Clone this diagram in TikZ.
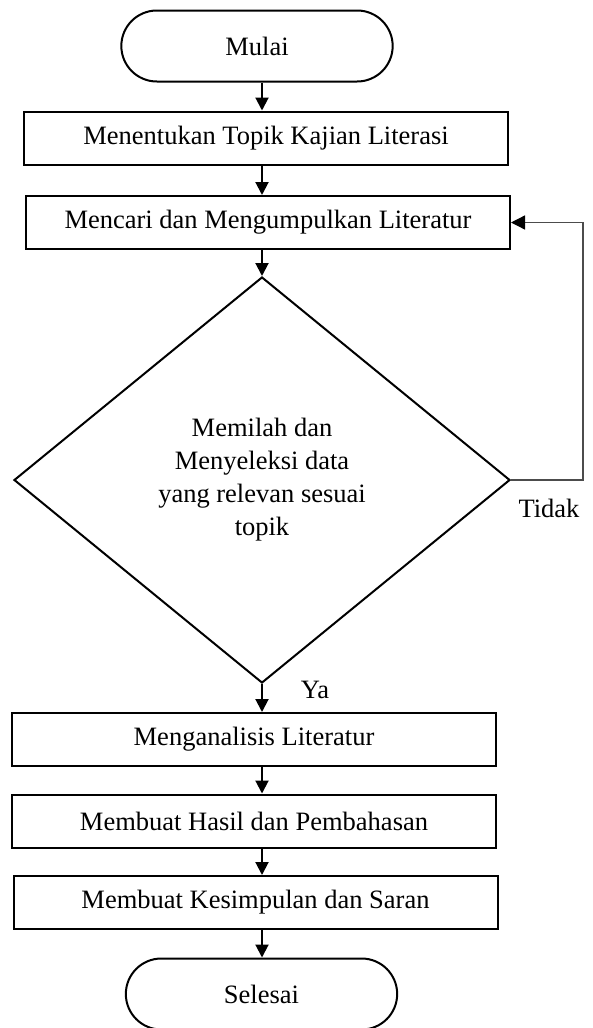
\documentclass[tikz,border=0pt]{standalone}
\usepackage{fontspec}
\setmainfont{Liberation Serif}
\usetikzlibrary{arrows.meta,shapes.geometric,shapes.misc}

\begin{document}
\begin{tikzpicture}[x=1pt,y=-1pt,>={Triangle[length=13pt,width=13pt]},
    line width=2pt,
    every node/.style={font=\fontsize{26.5}{33}\selectfont},
    terminal/.style={rounded rectangle,draw,minimum width=278pt,minimum height=71pt},
    proses/.style={rectangle,draw,minimum width=484pt,minimum height=53pt,inner sep=0pt},
    keputusan/.style={diamond,draw,minimum width=496pt,minimum height=406pt,inner sep=0pt,align=center},
    panah/.style={->},
    balik/.style={-{Triangle[length=14pt,width=14pt,color=black]},line width=1.3pt,draw=black!70}]

  \useasboundingbox (0,0) rectangle (592,1028);

  \node[terminal] (mulai) at (257,46) {Mulai};
  \node[proses] (topik) at (266,138) {Menentukan Topik Kajian Literasi};
  \node[proses] (cari) at (268,222.5) {Mencari dan Mengumpulkan Literatur};
  \node[keputusan] (pilah) at (262,480) {Memilah dan\\Menyeleksi data\\yang relevan sesuai\\topik};
  \node[proses] (analisis) at (254,739.5) {Menganalisis Literatur};
  \node[proses] (hasil) at (254,821) {Membuat\ Hasil\ dan\ Pembahasan};
  \node[proses] (simpul) at (255.5,902.5) {Membuat\ Kesimpulan\ dan\ Saran};
  \node[terminal] (selesai) at (261.5,994) {Selesai};

  \node (ya) at (315,690) {Ya};
  \node (tidak) at (549,508) {Tidak};
  \coordinate (putar) at (583,350);

  \draw[panah] (mulai.south -| pilah) -- (topik.north -| pilah);
  \draw[panah] (topik.south -| pilah) -- (cari.north -| pilah);
  \draw[panah] (cari.south -| pilah) -- (pilah.north);
  \draw[panah] (pilah.south) -- (analisis.north -| pilah);
  \draw[panah] (analisis.south -| pilah) -- (hasil.north -| pilah);
  \draw[panah] (hasil.south -| pilah) -- (simpul.north -| pilah);
  \draw[panah] (simpul.south -| pilah) -- (selesai.north -| pilah);
  \draw[balik] (pilah.east) -| (putar) |- (cari.east);

\end{tikzpicture}
\end{document}
